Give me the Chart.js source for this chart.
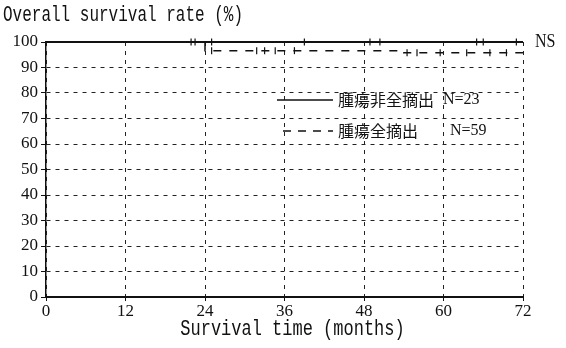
<!DOCTYPE html>
<html>
<head>
<meta charset="utf-8">
<script src="https://cdn.jsdelivr.net/npm/chart.js@4"></script>
<style>
  html, body { margin: 0; padding: 0; background: #ffffff; }
  #wrap { width: 566px; height: 348px; position: relative; }
</style>
</head>
<body>
<div id="wrap"><canvas id="c" width="566" height="348"></canvas></div>
<script>
// ---- data ----
const monthTicks = [0, 12, 24, 36, 48, 60, 72];
const survivalTicks = [0, 10, 20, 30, 40, 50, 60, 70, 80, 90, 100];

// 腫瘍非全摘出 (N=23) – solid
const partialTimes = [0, 72];
const partialSurv = [100, 100];
const partialCensor = [21.9, 22.5, 25, 39, 48.9, 50.4, 65, 66, 71];

// 腫瘍全摘出 (N=59) – dashed
const totalTimes = [0, 24, 54, 72];
const totalSurv = [100, 96.6, 95.8, 95.8];
const totalCensor = [25, 31.8, 33, 34.6, 37.5, 54.5, 56, 59.5, 63.5, 67, 69.5];

const legendLabels = ['腫瘍非全摘出', '腫瘍全摘出'];
const legendN = ['N=23', 'N=59'];
const yTitle = 'Overall survival rate (%)';
const xTitle = 'Survival time (months)';
const sigLabel = 'NS';

// ---- helpers ----
function toPoints(xs, ys) { return xs.map((x, i) => ({ x: x, y: ys[i] })); }
function stepValue(xs, ys, t) {
  let v = ys[0];
  for (let i = 0; i < xs.length; i++) { if (xs[i] <= t) v = ys[i]; }
  return v;
}
function censorPoints(times, xs, ys) { return times.map(t => ({ x: t, y: stepValue(xs, ys, t) })); }

const textPlugin = {
  id: 'texts',
  afterDraw(chart) {
    const ctx = chart.ctx;
    const a = chart.chartArea;
    ctx.save();
    ctx.fillStyle = '#111';
    // y title (top-left), vertically stretched
    ctx.save();
    ctx.font = '16px "Liberation Mono"';
    ctx.textBaseline = 'middle';
    ctx.textAlign = 'left';
    ctx.translate(3, 15);
    ctx.scale(1, 1.35);
    ctx.fillText(yTitle, 0, 0);
    ctx.restore();
    // x title
    ctx.save();
    ctx.font = '17px "Liberation Mono"';
    ctx.textBaseline = 'middle';
    ctx.textAlign = 'center';
    ctx.translate((a.left + a.right) / 2 + 8, 329);
    ctx.scale(1, 1.3);
    ctx.fillText(xTitle, 0, 0);
    ctx.restore();
    // NS
    ctx.save();
    ctx.font = '16px "Liberation Serif"';
    ctx.textBaseline = 'middle';
    ctx.textAlign = 'left';
    ctx.translate(a.right + 12, a.top);
    ctx.scale(1, 1.2);
    ctx.fillText(sigLabel, 0, 0);
    ctx.restore();
    // legend
    const rows = [a.top + 58, a.top + 89];
    const x0 = a.left + 231, x1 = a.left + 287;
    ctx.strokeStyle = '#111';
    ctx.lineWidth = 1.5;
    rows.forEach((ry, i) => {
      ctx.save();
      ctx.beginPath();
      if (i === 1) ctx.setLineDash([8, 7]);
      ctx.moveTo(i === 1 ? x0 + 6 : x0, ry);
      ctx.lineTo(x1, ry);
      ctx.stroke();
      ctx.restore();
      ctx.save();
      ctx.font = '16px "Noto Sans CJK JP"';
      ctx.textBaseline = 'middle';
      ctx.textAlign = 'left';
      ctx.fillText(legendLabels[i], x1 + 5, ry);
      ctx.font = '16px "Liberation Serif"';
      ctx.fillText(legendN[i], i === 0 ? a.left + 397 : a.left + 404, ry);
      ctx.restore();
    });
    ctx.restore();
  }
};

const bgPlugin = {
  id: 'bg',
  beforeDraw(chart) {
    const ctx = chart.ctx;
    ctx.save();
    ctx.fillStyle = '#ffffff';
    ctx.fillRect(0, 0, chart.width, chart.height);
    ctx.restore();
  }
};

const tickFont = { family: '"Liberation Serif"', size: 17 };

new Chart(document.getElementById('c'), {
  type: 'line',
  data: {
    datasets: [
      {
        label: legendLabels[0],
        data: toPoints(partialTimes, partialSurv),
        borderColor: '#111',
        borderWidth: 2,
        stepped: true,
        pointRadius: 0,
        fill: false,
        clip: false
      },
      {
        label: legendLabels[1],
        data: toPoints(totalTimes, totalSurv),
        borderColor: '#111',
        borderWidth: 1.5,
        borderDash: [8, 8],
        stepped: true,
        pointRadius: 0,
        fill: false,
        clip: false
      },
      {
        label: 'censor1',
        data: censorPoints(partialCensor, partialTimes, partialSurv),
        showLine: false,
        pointStyle: 'line',
        rotation: 90,
        pointRadius: 3.5,
        borderColor: '#111',
        borderWidth: 1.2,
        clip: false
      },
      {
        label: 'censor2',
        data: censorPoints(totalCensor, totalTimes, totalSurv),
        showLine: false,
        pointStyle: 'line',
        rotation: 90,
        pointRadius: 3.5,
        borderColor: '#111',
        borderWidth: 1.2,
        clip: false
      }
    ]
  },
  options: {
    responsive: false,
    animation: false,
    devicePixelRatio: 1,
    layout: { padding: { top: 42, right: 43, bottom: 0, left: 0 } },
    plugins: { legend: { display: false }, tooltip: { enabled: false }, title: { display: false } },
    scales: {
      x: {
        type: 'linear',
        min: 0, max: 72,
        afterBuildTicks(scale) { scale.ticks = monthTicks.map(v => ({ value: v })); },
        afterFit(scale) { scale.height = 51; },
        ticks: { font: tickFont, color: '#111', padding: 0, maxRotation: 0 },
        grid: { color: '#222', lineWidth: 1, tickLength: 4, tickColor: '#111' },
        border: { display: true, color: '#111', width: 2, dash: [4, 5] }
      },
      y: {
        type: 'linear',
        min: 0, max: 100,
        afterBuildTicks(scale) { scale.ticks = survivalTicks.map(v => ({ value: v })); },
        afterFit(scale) { scale.width = 46; },
        ticks: { font: tickFont, color: '#111', padding: 3 },
        grid: { color: '#222', lineWidth: 1, tickLength: 5, tickColor: '#111' },
        border: { display: true, color: '#111', width: 1.5, dash: [4, 5] }
      }
    }
  },
  plugins: [bgPlugin, textPlugin]
});
</script>
</body>
</html>
